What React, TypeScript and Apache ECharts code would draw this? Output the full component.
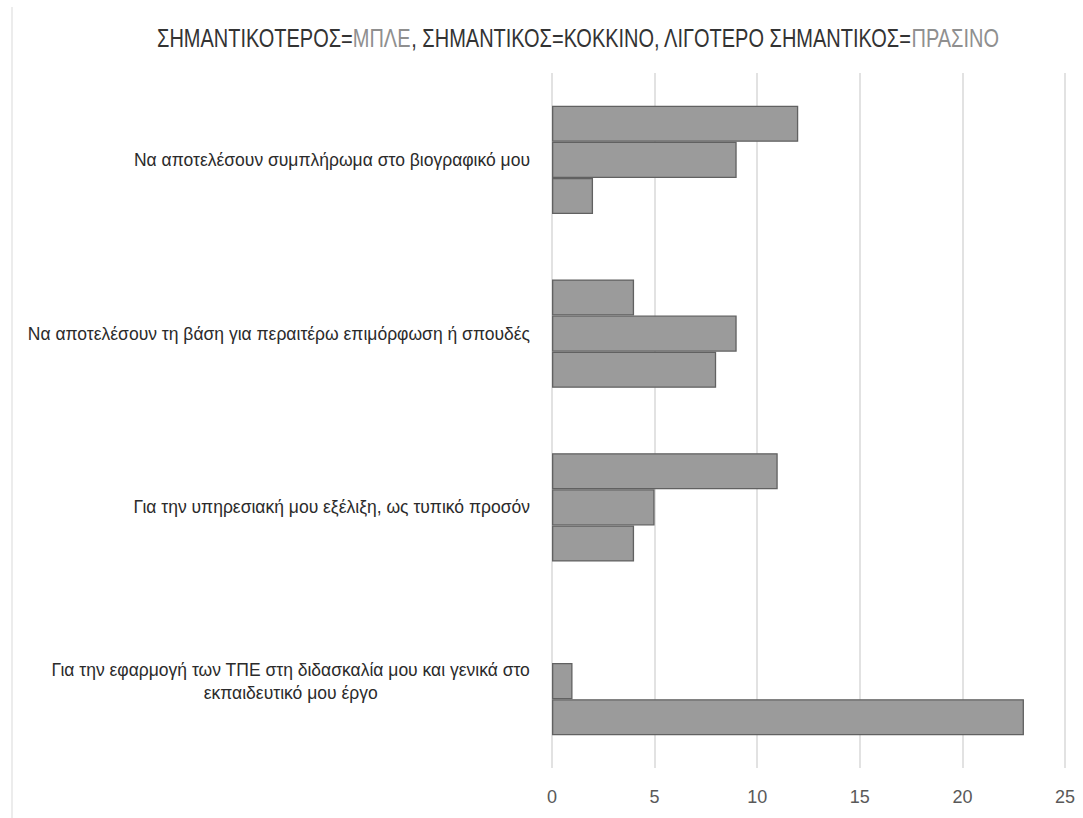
import React, { useEffect, useRef } from "react";
import * as echarts from "echarts";

// Reasons for attending training, counted by importance level
const categories: string[] = [
  "Να αποτελέσουν συμπλήρωμα στο βιογραφικό μου",
  "Να αποτελέσουν τη βάση για περαιτέρω επιμόρφωση ή σπουδές",
  "Για την υπηρεσιακή μου εξέλιξη, ως τυπικό προσόν",
  "Για την εφαρμογή των ΤΠΕ στη διδασκαλία μου και γενικά στο\nεκπαιδευτικό μου έργο",
];

const seriesNames: string[] = [
  "ΣΗΜΑΝΤΙΚΟΤΕΡΟΣ",
  "ΣΗΜΑΝΤΙΚΟΣ",
  "ΛΙΓΟΤΕΡΟ ΣΗΜΑΝΤΙΚΟΣ",
];

const mostImportant: number[] = [12, 4, 11, 0];
const important: number[] = [9, 9, 5, 1];
const lessImportant: number[] = [2, 8, 4, 23];

const xTicks: number[] = [0, 5, 10, 15, 20, 25];

const BAR_FILL = "#9b9b9b";
const BAR_EDGE = "#616161";
const FONT = "'Liberation Sans', Arial, sans-serif";

function toData(values: number[]) {
  return values.map((v) =>
    v === 0 ? { value: v, itemStyle: { borderWidth: 0 } } : { value: v }
  );
}

export default function App() {
  const ref = useRef<HTMLDivElement>(null);

  useEffect(() => {
    if (!ref.current) return;
    const chart = echarts.init(ref.current, null, { renderer: "svg" });
    const seriesValues = [mostImportant, important, lessImportant];

    chart.setOption({
      animation: false,
      backgroundColor: "#ffffff",
      graphic: [
        {
          type: "line",
          shape: { x1: 12, y1: 7, x2: 12, y2: 818 },
          style: { stroke: "#e6e6e6", lineWidth: 1.5 },
          silent: true,
        },
        {
          // condensed title line
          type: "text",
          x: 578,
          y: 39,
          scaleX: 0.8,
          silent: true,
          style: {
            text:
              "{a|ΣΗΜΑΝΤΙΚΟΤΕΡΟΣ=}{b|ΜΠΛΕ}{a|, ΣΗΜΑΝΤΙΚΟΣ=ΚΟΚΚΙΝΟ, ΛΙΓΟΤΕΡΟ ΣΗΜΑΝΤΙΚΟΣ=}{b|ΠΡΑΣΙΝΟ}",
            align: "center",
            verticalAlign: "middle",
            fill: "#333333",
            rich: {
              a: { fontFamily: FONT, fontSize: 25, fill: "#333333" },
              b: { fontFamily: FONT, fontSize: 25, fill: "#8f8f8f" },
            },
          },
        },
      ],
      grid: {
        left: 552,
        right: 18,
        top: 73,
        bottom: 50,
        containLabel: false,
      },
      xAxis: {
        type: "value",
        min: 0,
        max: 25,
        interval: 5,
        axisLine: { show: false },
        axisTick: { show: false },
        splitLine: { show: true, lineStyle: { color: "#d9d9d9", width: 1.5 } },
        axisLabel: {
          margin: 20,
          fontFamily: FONT,
          fontSize: 18,
          color: "#595959",
          formatter: (v: number) => (xTicks.includes(v) ? String(v) : ""),
        },
      },
      yAxis: {
        type: "category",
        inverse: true,
        data: categories,
        axisLine: { show: false },
        axisTick: { show: false },
        splitLine: { show: false },
        axisLabel: {
          margin: 22,
          fontFamily: FONT,
          fontSize: 17.5,
          color: "#2b2b2b",
          lineHeight: 23,
          formatter: (name: string) =>
            name
              .split("\n")
              .map((line) => "{c|" + line + "}")
              .join("\n"),
          rich: {
            c: {
              align: "center",
              fontFamily: FONT,
              fontSize: 17.5,
              color: "#2b2b2b",
              lineHeight: 23,
            },
          },
        },
      },
      series: seriesValues.map((vals, i) => ({
        name: seriesNames[i],
        type: "bar",
        data: toData(vals),
        barGap: "0%",
        barCategoryGap: "37.6%",
        itemStyle: {
          color: BAR_FILL,
          borderColor: BAR_EDGE,
          borderWidth: 1.3,
        },
      })),
    });

    return () => chart.dispose();
  }, []);

  return (
    <div
      ref={ref}
      style={{ position: "fixed", left: 0, top: 0, width: 1083, height: 818 }}
    />
  );
}
